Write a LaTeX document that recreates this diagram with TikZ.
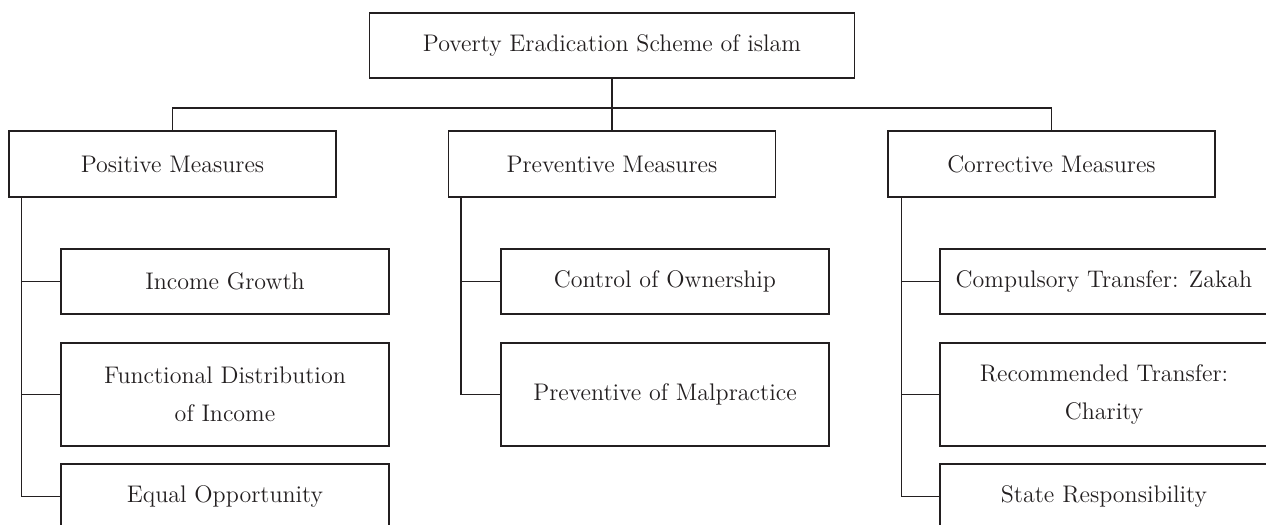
\documentclass[tikz,border=0pt]{standalone}
\usepackage{tikz}
\usetikzlibrary{positioning}
\definecolor{InkGray}{HTML}{231F20}

\begin{document}
\begin{tikzpicture}[
			x=0.5pt, y=-0.5pt,
			box/.style={rectangle, draw=InkGray, line width=0.6pt, inner sep=2pt, minimum height=32.5pt, text centered, align=center, text=InkGray, font=\fontsize{12}{19}\selectfont},
			headbox/.style={box, minimum width=163.5pt, minimum height=33pt},
			leafbox/.style={box, minimum width=164pt},
			tallbox/.style={leafbox, minimum height=51.5pt},
			link/.style={draw=InkGray, line width=0.6pt},
			]
			\useasboundingbox (0,0) rectangle (1266,525);
			\clip (0,0) rectangle (1266,525);
			\node (root) [box, minimum width=242.5pt] at (612,45.5) {Poverty Eradication Scheme of islam};
			\node (positive) [headbox] at (172.5,164) {Positive Measures};
			\node (preventive) [headbox] at (612,164) {Preventive Measures};
			\node (corrective) [headbox] at (1051.5,164) {Corrective Measures};
			% positive measures
			\node (income) [leafbox] at (225,281.5) {Income Growth};
			\node (functional) [tallbox] at (225,394.5) {Functional Distribution\\of Income};
			\node (equal) [leafbox] at (225,496.5) {Equal Opportunity};
			% preventive measures
			\node (ownership) [leafbox] at (665,281.5) {Control of Ownership};
			\node (malpractice) [tallbox] at (665,394.5) {Preventive of Malpractice};
			% corrective measures
			\node (zakah) [leafbox] at (1104,281.5) {Compulsory Transfer: Zakah};
			\node (charity) [tallbox] at (1104,394.5) {Recommended Transfer:\\Charity};
			\node (state) [leafbox] at (1104,496.5) {State Responsibility};
			
			\coordinate (bar) at (0,108);
			\draw[link] (root) -- (preventive);
			\draw[link] (positive.north) -- (positive.north |- bar) -- (corrective.north |- bar) -- (corrective.north);
			
			\draw[link] ([xshift=6.5pt]positive.south west) |- (income.west);
			\draw[link] ([xshift=6.5pt]positive.south west) |- (functional.west);
			\draw[link] ([xshift=6.5pt]positive.south west) |- (equal.west);
			\draw[link] ([xshift=6.5pt]preventive.south west) |- (ownership.west);
			\draw[link] ([xshift=6.5pt]preventive.south west) |- (malpractice.west);
			\draw[link] ([xshift=7pt]corrective.south west) |- (zakah.west);
			\draw[link] ([xshift=7pt]corrective.south west) |- (charity.west);
			\draw[link] ([xshift=7pt]corrective.south west) |- (state.west);
		\end{tikzpicture}
\end{document}
